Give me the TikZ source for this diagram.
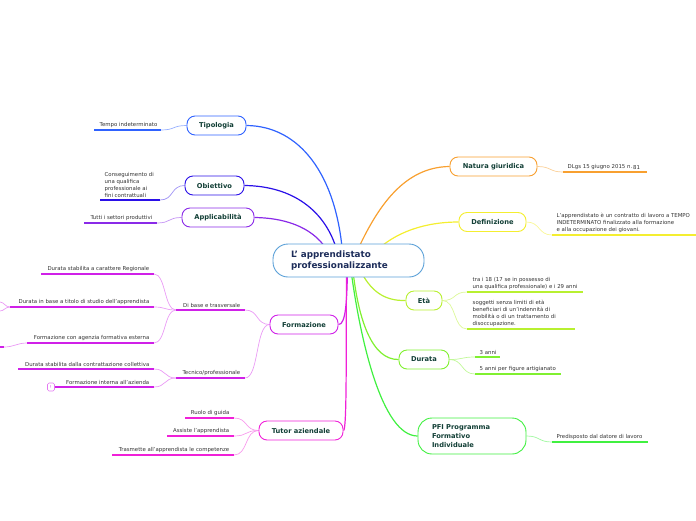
\documentclass[tikz,border=0pt]{standalone}
\usepackage{fontspec}
\setmainfont{DejaVu Sans}
\usetikzlibrary{backgrounds,calc}
\definecolor{cCen}{HTML}{5AA0D8}
\definecolor{cTip}{HTML}{2F62FF}
\definecolor{cObi}{HTML}{2A10E8}
\definecolor{cApp}{HTML}{8A2AE8}
\definecolor{cFor}{HTML}{D020E8}
\definecolor{cTut}{HTML}{F020D8}
\definecolor{cNat}{HTML}{F8A030}
\definecolor{cDef}{HTML}{F4EE30}
\definecolor{cEta}{HTML}{B8F030}
\definecolor{cDur}{HTML}{80F030}
\definecolor{cPfi}{HTML}{40F040}
\definecolor{tTitle}{HTML}{123F36}
\definecolor{tCen}{HTML}{1D2D5A}
\definecolor{tLeaf}{HTML}{333333}
\begin{document}
\begin{tikzpicture}[x=1pt,y=-1pt,
  topic/.style={draw, fill=white, rounded corners=8pt, line width=0.9pt,
    font=\bfseries\fontsize{6.7}{8.7}\selectfont, text=tTitle,
    minimum height=19pt, inner sep=0pt},
  leaf/.style={font=\fontsize{5.4}{7}\selectfont, text=tLeaf, inner sep=0.5pt, align=left},
  ul/.style={line width=1.5pt},
  br/.style={line width=1.2pt},
  tw/.style={line width=0.7pt}]
\useasboundingbox (0,0) rectangle (696,520);

% ---------- nodes ----------
\node[topic, draw=cCen, rounded corners=15pt, minimum height=33pt, text width=115pt,
  inner xsep=18pt, font=\bfseries\fontsize{8.8}{10.5}\selectfont, text=tCen, align=left]
  (c) at (348.5,260.5) {L' apprendistato\\professionalizzante};
\node[topic, draw=cTip, minimum width=59pt] (tip) at (216.5,125.5) {Tipologia};
\node[topic, draw=cObi, minimum width=59pt] (obi) at (214.5,185.5) {Obiettivo};
\node[topic, draw=cApp, minimum width=72pt] (app) at (218,217.5) {Applicabilità};
\node[topic, draw=cFor, minimum width=68pt] (for) at (304,324.5) {Formazione};
\node[topic, draw=cTut, minimum width=84pt] (tut) at (301,430.5) {Tutor aziendale};
\node[topic, draw=cNat, minimum width=87pt] (nat) at (493.5,166.5) {Natura giuridica};
\node[topic, draw=cDef, minimum width=67pt] (def) at (492.5,222) {Definizione};
\node[topic, draw=cEta, minimum width=36pt] (eta) at (424,300.5) {Età};
\node[topic, draw=cDur, minimum width=50pt] (dur) at (424,359.5) {Durata};
\node[topic, draw=cPfi, minimum height=36pt, rounded corners=14pt, text width=80pt,
  inner xsep=14pt, align=left] (pfi) at (472,436) {PFI Programma\\Formativo\\Individuale};

% ---------- leaf underlines (named coordinates) ----------
\coordinate (tempoL) at (94,130);   \coordinate (tempoR) at (161,130);
\coordinate (obiL) at (100,200);    \coordinate (obiR) at (160,200);
\coordinate (tutL) at (84,223);     \coordinate (tutR) at (157,223);
\coordinate (dbL) at (176,310);     \coordinate (dbR) at (245,310);
\coordinate (tecL) at (176,378);    \coordinate (tecR) at (245,378);
\coordinate (regL) at (41,274);     \coordinate (regR) at (154,274);
\coordinate (titL) at (10,307);     \coordinate (titR) at (154,307);
\coordinate (agL) at (27,343);      \coordinate (agR) at (154,343);
\coordinate (conL) at (18,369);     \coordinate (conR) at (154,369);
\coordinate (intL) at (55,387);     \coordinate (intR) at (154,387);
\coordinate (ruoL) at (185,418);    \coordinate (ruoR) at (234,418);
\coordinate (assL) at (167,436);    \coordinate (assR) at (234,436);
\coordinate (traL) at (112,455);    \coordinate (traR) at (234,455);
\coordinate (dlgL) at (563,172);    \coordinate (dlgR) at (647,172);
\coordinate (defL) at (552,235);    \coordinate (defR) at (696,235);
\coordinate (e1L) at (467,292);     \coordinate (e1R) at (583,292);
\coordinate (e2L) at (467,329);     \coordinate (e2R) at (575,329);
\coordinate (d1L) at (475,357);     \coordinate (d1R) at (500,357);
\coordinate (d2L) at (475,374);     \coordinate (d2R) at (561,374);
\coordinate (pfL) at (552,442);     \coordinate (pfR) at (648,442);
\coordinate (offA) at (0,302);      \coordinate (offB) at (0,311);
\coordinate (offC) at (4,347);      \coordinate (offD) at (0,347);

% ---------- leaf texts ----------
\node[leaf, anchor=south east] (t1) at (158,128.5) {Tempo indeterminato};
\node[leaf, anchor=south west] (t2) at (104,198.5) {Conseguimento di\\una qualifica\\professionale ai\\fini contrattuali};
\node[leaf, anchor=south east] (t3) at (153,221.5) {Tutti i settori produttivi};
\node[leaf, anchor=south east] (t4) at (241,308.5) {Di base e trasversale};
\node[leaf, anchor=south east] (t5) at (241,376.5) {Tecnico/professionale};
\node[leaf, anchor=south east] (t6) at (150,272.5) {Durata stabilita a carattere Regionale};
\node[leaf, anchor=south east] (t7) at (150,305.5) {Durata in base a titolo di studio dell'apprendista};
\node[leaf, anchor=south east] (t8) at (150,341.5) {Formazione con agenzia formativa esterna};
\node[leaf, anchor=south east] (t9) at (150,367.5) {Durata stabilita dalla contrattazione collettiva};
\node[leaf, anchor=south east] (t10) at (150,385.5) {Formazione interna all'azienda};
\node[leaf, anchor=south east] (t11) at (230,416.5) {Ruolo di guida};
\node[leaf, anchor=south east] (t12) at (230,434.5) {Assiste l'apprendista};
\node[leaf, anchor=south east] (t13) at (230,453.5) {Trasmette all'apprendista le competenze};
\node[leaf, anchor=south west] (t14) at (567,170.5) {DLgs 15 giugno 2015 n.\,\raisebox{-0.8pt}{81}};
\node[leaf, anchor=south west] (t15) at (556,233.5) {L'apprendistato è un contratto di lavoro a TEMPO\\INDETERMINATO finalizzato alla formazione\\e alla occupazione dei giovani.};
\node[leaf, anchor=south west] (t16) at (472,290.5) {tra i 18 (17 se in possesso di\\una qualifica professionale) e i 29 anni};
\node[leaf, anchor=south west] (t17) at (472,327.5) {soggetti senza limiti di età\\beneficiari di un'indennità di\\mobilità o di un trattamento di\\disoccupazione.};
\node[leaf, anchor=south west] (t18) at (479,355.5) {3 anni};
\node[leaf, anchor=south west] (t19) at (479,372.5) {5 anni per figure artigianato};
\node[leaf, anchor=south west] (t20) at (556,440.5) {Predisposto dal datore di lavoro};
\node[draw=cFor!60, rounded corners=1.5pt, line width=0.6pt, minimum width=7pt, minimum height=8pt,
  inner sep=0pt, font=\fontsize{4}{4}\selectfont, text=cFor] (warn) at (51,387) {!};

% ---------- underlines ----------
\draw[ul, cTip] (tempoL) -- (tempoR);
\draw[ul, cObi] (obiL) -- (obiR);
\draw[ul, cApp] (tutL) -- (tutR);
\foreach \a in {db,tec,reg,tit,ag,con,int}{\draw[ul, cFor] (\a L) -- (\a R);}
\draw[ul, cFor] (offC) -- (offD);
\foreach \a in {ruo,ass,tra}{\draw[ul, cTut] (\a L) -- (\a R);}
\draw[ul, cNat] (dlgL) -- (dlgR);
\draw[ul, cDef] (defL) -- (defR);
\draw[ul, cEta] (e1L) -- (e1R);
\draw[ul, cEta] (e2L) -- (e2R);
\draw[ul, cDur] (d1L) -- (d1R);
\draw[ul, cDur] (d2L) -- (d2R);
\draw[ul, cPfi] (pfL) -- (pfR);

% ---------- connectors ----------
\begin{scope}[on background layer]
  % main branches
  \draw[br, cTip] (tip.east) .. controls (300,126) and (336,175) .. ($(c.center)+(-6,-8)$);
  \draw[br, cObi] (obi.east) .. controls (292,186) and (326,210) .. ($(c.center)+(-11,-8)$);
  \draw[br, cApp] (app.east) .. controls (290,218) and (316,230) .. ($(c.center)+(-20,-8)$);
  \draw[br, cNat] (nat.west) .. controls (405,167) and (378,205) .. ($(c.center)+(8,-8)$);
  \draw[br, cDef] (def.west) .. controls (425,222) and (395,232) .. ($(c.center)+(26,-8)$);
  \draw[br, cFor] (for.east) .. controls (346,325) and (347,300) .. ($(c.center)+(-1,6)$);
  \draw[br, cTut] (tut.east) .. controls (347,431) and (346,350) .. ($(c.center)+(-2,6)$);
  \draw[br, cEta] (eta.west) .. controls (385,301) and (370,292) .. ($(c.center)+(10,6)$);
  \draw[br, cDur] (dur.west) .. controls (372,360) and (358,320) .. ($(c.center)+(4,6)$);
  \draw[br, cPfi] (pfi.west) .. controls (382,436) and (360,340) .. ($(c.center)+(2,6)$);
  % secondary (left)
  \draw[tw, cTip!50] (tip.west) .. controls +(-14,0) and +(14,0) .. (tempoR);
  \draw[tw, cObi!45] (obi.west) .. controls +(-14,0) and +(14,0) .. (obiR);
  \draw[tw, cApp!50] (app.west) .. controls +(-14,0) and +(14,0) .. (tutR);
  \draw[tw, cFor!45] (for.west) .. controls +(-14,0) and +(14,0) .. (dbR);
  \draw[tw, cFor!45] (for.west) .. controls +(-14,0) and +(14,0) .. (tecR);
  \draw[tw, cFor!45] (dbL) .. controls +(-12,0) and +(12,0) .. (regR);
  \draw[tw, cFor!45] (dbL) .. controls +(-12,0) and +(12,0) .. (titR);
  \draw[tw, cFor!45] (dbL) .. controls +(-12,0) and +(12,0) .. (agR);
  \draw[tw, cFor!45] (tecL) .. controls +(-12,0) and +(12,0) .. (conR);
  \draw[tw, cFor!45] (tecL) .. controls +(-12,0) and +(12,0) .. (intR);
  \draw[tw, cFor!45] (titL) .. controls +(-5,0) and +(4,0) .. (offA);
  \draw[tw, cFor!45] (titL) .. controls +(-5,0) and +(4,0) .. (offB);
  \draw[tw, cFor!45] (agL) .. controls +(-10,0) and +(10,0) .. (offC);
  \draw[tw, cTut!45] (tut.west) .. controls +(-14,0) and +(14,0) .. (ruoR);
  \draw[tw, cTut!45] (tut.west) .. controls +(-14,0) and +(14,0) .. (assR);
  \draw[tw, cTut!45] (tut.west) .. controls +(-14,0) and +(14,0) .. (traR);
  % secondary (right)
  \draw[tw, cNat!50] (nat.east) .. controls +(14,0) and +(-14,0) .. (dlgL);
  \draw[tw, cDef!50] (def.east) .. controls +(14,0) and +(-14,0) .. (defL);
  \draw[tw, cEta!50] (eta.east) .. controls +(14,0) and +(-14,0) .. (e1L);
  \draw[tw, cEta!50] (eta.east) .. controls +(14,0) and +(-14,0) .. (e2L);
  \draw[tw, cDur!50] (dur.east) .. controls +(14,0) and +(-14,0) .. (d1L);
  \draw[tw, cDur!50] (dur.east) .. controls +(14,0) and +(-14,0) .. (d2L);
  \draw[tw, cPfi!50] (pfi.east) .. controls +(14,0) and +(-14,0) .. (pfL);
\end{scope}
\end{tikzpicture}
\end{document}
